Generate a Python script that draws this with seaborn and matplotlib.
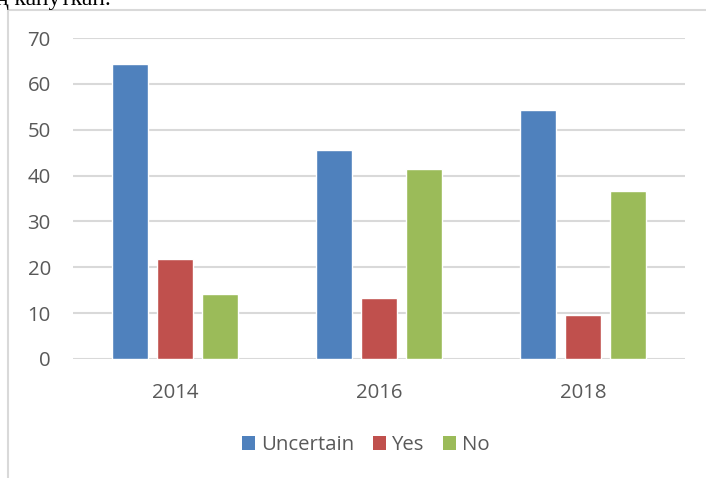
import matplotlib
matplotlib.use("Agg")
import matplotlib.pyplot as plt
import seaborn as sns
import pandas as pd
from matplotlib.lines import Line2D
from matplotlib.patches import Patch

years = ["2014", "2016", "2018"]
series = ["Uncertain", "Yes", "No"]
uncertain = [64.3, 45.6, 54.4]
yes = [21.8, 13.2, 9.6]
no = [14.2, 41.5, 36.6]
yticks = [0, 10, 20, 30, 40, 50, 60, 70]
colors = ["#4F81BD", "#C0504D", "#9BBB59"]

rows = []
for i, y in enumerate(years):
    for s, vals in zip(series, [uncertain, yes, no]):
        rows.append({"year": y, "series": s, "value": vals[i]})
df = pd.DataFrame(rows)

sns.set_theme(style="white")
plt.rcParams["font.family"] = ["Open Sans", "DejaVu Sans"]

fig = plt.figure(figsize=(7.06, 4.78), dpi=100)
ax = fig.add_axes([73/706, 1-359/478, 612/706, (359-38)/478])

sns.barplot(data=df, x="year", y="value", hue="series", order=years,
            hue_order=series, palette=colors, width=0.66, gap=0.2,
            saturation=1, ax=ax, legend=False)

ax.set_xlim(-0.5, 2.5)
ax.set_ylim(0, 70)
ax.set_yticks(yticks)
ax.set_yticklabels([str(t) for t in yticks])
ax.set_xlabel("")
ax.set_ylabel("")
for sp in ax.spines.values():
    sp.set_visible(False)
ax.yaxis.grid(True, color="#d9d9d9", linewidth=1.5)
ax.set_axisbelow(True)
ax.tick_params(axis="both", length=0, labelsize=14.7, colors="#595959")
ax.tick_params(axis="y", pad=16)
ax.tick_params(axis="x", pad=17)

handles = [Patch(facecolor=c, edgecolor="none") for c in colors]
fig.legend(handles, series, loc="center", bbox_to_anchor=(366/706, 1-445/478),
           ncol=3, frameon=False, fontsize=14.7, handlelength=0.65, handleheight=0.65,
           columnspacing=0.9, handletextpad=0.3, labelcolor="#595959")

# chart frame
fig.add_artist(Line2D([8/706, 8/706], [0, 1-10/478], transform=fig.transFigure,
                      color="#d9d9d9", linewidth=1.5))
fig.add_artist(Line2D([8/706, 1], [1-10/478, 1-10/478], transform=fig.transFigure,
                      color="#d9d9d9", linewidth=1.5))

# clipped document text above the chart (cut at the top edge, as in the reference)
fig.text(-0.005, 1-5/478, "ң капуткан.", family=["Liberation Serif", "DejaVu Serif"],
         fontsize=17, color="black", va="baseline", ha="left")

fig.savefig("out.png", dpi=100)
